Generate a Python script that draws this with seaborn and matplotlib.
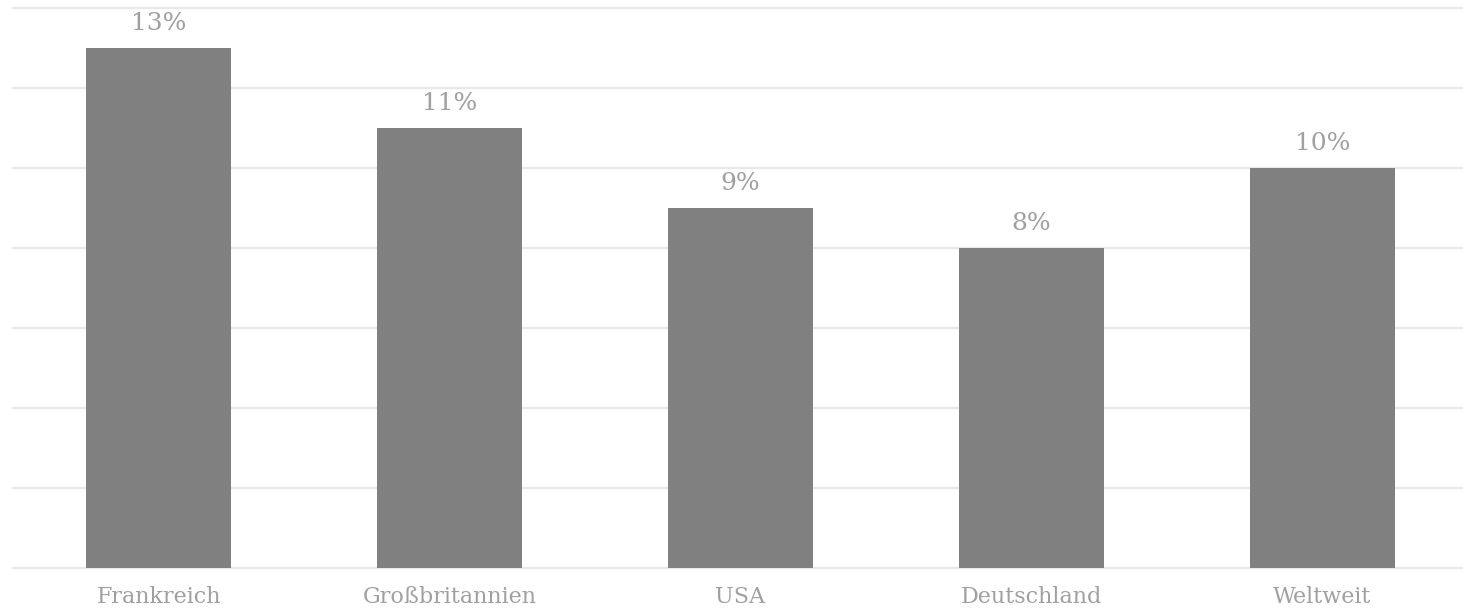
import matplotlib
matplotlib.use("Agg")
import matplotlib.pyplot as plt
import seaborn as sns
import pandas as pd

categories = ["Frankreich", "Großbritannien", "USA", "Deutschland", "Weltweit"]
values = [13, 11, 9, 8, 10]
labels = ["13%", "11%", "9%", "8%", "10%"]

sns.set_theme(style="white")
plt.rcParams["font.family"] = ["DejaVu Serif"]

df = pd.DataFrame({"cat": categories, "val": values})

fig = plt.figure(figsize=(14.63, 6.14), dpi=100)
ax = fig.add_axes([13 / 1463, 46 / 614, 1450 / 1463, 560 / 614])
sns.barplot(data=df, x="cat", y="val", color="#808080", saturation=1, width=0.5,
            linewidth=0, ax=ax, zorder=3)
ax.set_xlim(-0.5, (1463 - 13) / 291 - 0.5)
ax.set_ylim(0, 14)
ax.set_yticks(range(0, 15, 2))
ax.yaxis.grid(True, color="#e8e8e8", linewidth=1.6, zorder=0, clip_on=False)
ax.set_axisbelow(True)
for s in ax.spines.values():
    s.set_visible(False)
ax.tick_params(axis="y", left=False, labelleft=False)
ax.tick_params(axis="x", bottom=False, pad=7, labelsize=16, labelcolor="#a0a0a0")
ax.set_xlabel("")
ax.set_ylabel("")
for i, (v, t) in enumerate(zip(values, labels)):
    ax.annotate(t, (i, v), xytext=(0, 25), textcoords="offset pixels", ha="center", va="center",
                fontsize=18, color="#a0a0a0")
fig.savefig("out.png", dpi=100, facecolor="white")
